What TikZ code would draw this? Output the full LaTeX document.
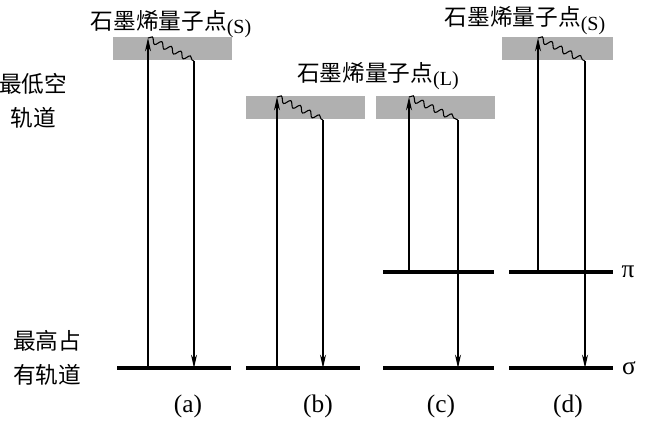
\documentclass[tikz,border=0pt]{standalone}
\usepackage{fontspec}
\setmainfont{Liberation Serif}
\newfontfamily\cjk{Noto Sans CJK SC}
\usetikzlibrary{arrows.meta,decorations.pathmorphing}

\begin{document}
\begin{tikzpicture}[x=0.75pt,y=-0.75pt,
    level/.style={line width=3pt},
    band/.style={fill=gray!62},
    absorb/.style={line width=0.8pt,-{Stealth[length=10pt,width=4.5pt]}},
    relax/.style={line width=0.8pt,decorate,decoration={snake,amplitude=2.2pt,segment length=8pt,post length=1pt}},
    cjktext/.style={font=\cjk\fontsize{17}{21}\selectfont},
    sidetext/.style={font=\cjk\fontsize{17}{26}\selectfont},
    tag/.style={font=\fontsize{19}{22}\selectfont}]
  \useasboundingbox (0,0) rectangle (649,421);

  % Example (a): small dot, sigma only
  \fill[band] (113,37) rectangle (232,60);
  \draw[level] (117,368) -- (231,368);
  \coordinate (a-lo) at (148,368);
  \coordinate (a-hi) at (148,38);
  \coordinate (a-top) at (194,61);
  \coordinate (a-end) at (194,368);
  \draw[absorb] (a-lo) -- (a-hi);
  \draw[relax] (a-hi) -- (a-top);
  \draw[absorb] (a-top) -- (a-end);
  \node[cjktext,anchor=base] (a-title) at (171,29) {石墨烯量子点\raisebox{-0.4ex}{\fontsize{15}{17}\selectfont\rmfamily(S)}};
  \node[tag] (a-tag) at (188,406) {(a)};

  % Example (b): large dot, sigma only
  \fill[band] (246,96) rectangle (365,119);
  \draw[level] (246,368) -- (360,368);
  \coordinate (b-lo) at (277,368);
  \coordinate (b-hi) at (277,97);
  \coordinate (b-top) at (323,120);
  \coordinate (b-end) at (323,368);
  \draw[absorb] (b-lo) -- (b-hi);
  \draw[relax] (b-hi) -- (b-top);
  \draw[absorb] (b-top) -- (b-end);
  \node[tag] (b-tag) at (318,406) {(b)};

  % Example (c): large dot, pi and sigma
  \fill[band] (376,96) rectangle (495,119);
  \draw[level] (383,272) -- (494,272);
  \draw[level] (383,368) -- (494,368);
  \coordinate (c-lo) at (409,272);
  \coordinate (c-hi) at (409,97);
  \coordinate (c-top) at (458,120);
  \coordinate (c-end) at (458,368);
  \draw[absorb] (c-lo) -- (c-hi);
  \draw[relax] (c-hi) -- (c-top);
  \draw[absorb] (c-top) -- (c-end);
  \node[cjktext,anchor=base] (bc-title) at (378,81) {石墨烯量子点\raisebox{-0.4ex}{\fontsize{15}{17}\selectfont\rmfamily(L)}};
  \node[tag] (c-tag) at (441,406) {(c)};

  % Example (d): small dot, pi and sigma
  \fill[band] (502,37) rectangle (613,60);
  \draw[level] (509,272) -- (613,272);
  \draw[level] (509,368) -- (613,368);
  \coordinate (d-lo) at (538,272);
  \coordinate (d-hi) at (538,38);
  \coordinate (d-top) at (585,61);
  \coordinate (d-end) at (585,368);
  \draw[absorb] (d-lo) -- (d-hi);
  \draw[relax] (d-hi) -- (d-top);
  \draw[absorb] (d-top) -- (d-end);
  \node[cjktext,anchor=base] (d-title) at (525,26) {石墨烯量子点\raisebox{-0.4ex}{\fontsize{15}{17}\selectfont\rmfamily(S)}};
  \node[tag] (d-tag) at (568,406) {(d)};

  % levels on the left and right
  \node[sidetext,align=center] (lumo) at (33,101) {最低空\\轨道};
  \node[sidetext,align=center] (homo) at (47,358) {最高占\\有轨道};
  \node[tag] (pi) at (628,272) {π};
  \node[tag] (sigma) at (629,368) {σ};
\end{tikzpicture}
\end{document}
